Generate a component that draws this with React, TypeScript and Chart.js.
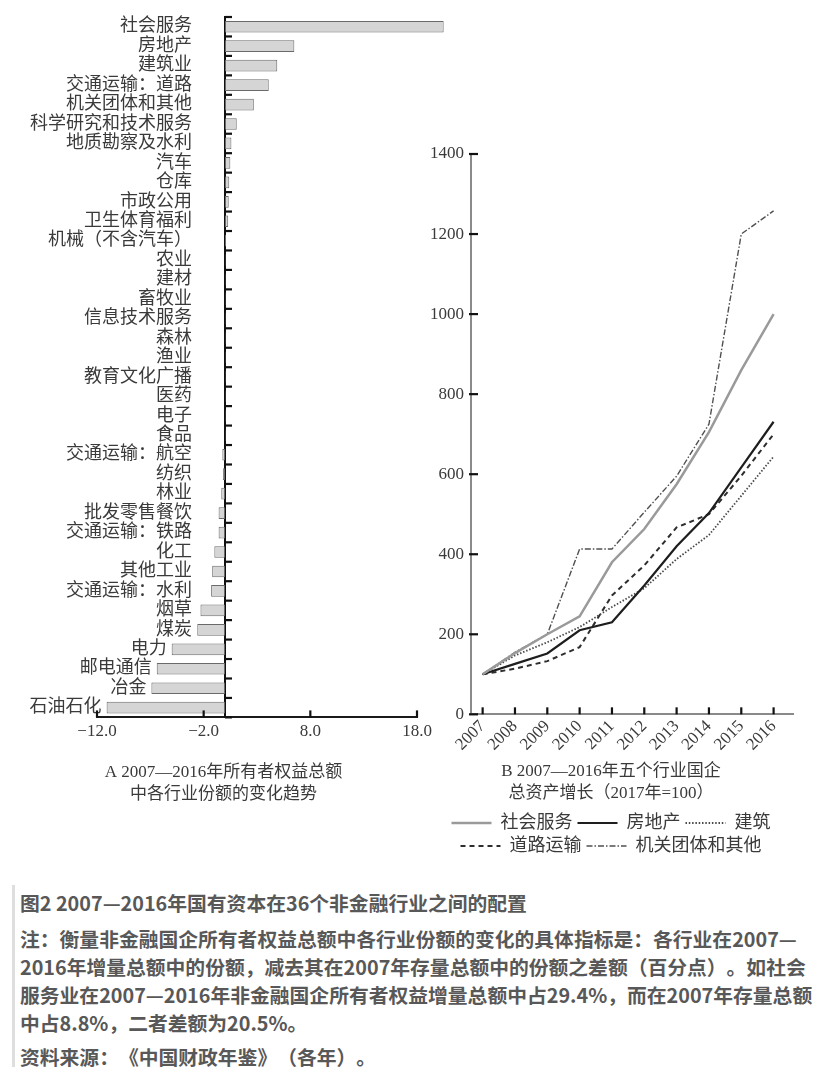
import React, { useEffect, useRef } from 'react';
import { Chart, registerables } from 'chart.js';

Chart.register(...registerables);

// ---------- Panel A data ----------
const industries = [
  '社会服务', '房地产', '建筑业', '交通运输：道路', '机关团体和其他', '科学研究和技术服务',
  '地质勘察及水利', '汽车', '仓库', '市政公用', '卫生体育福利', '机械（不含汽车）',
  '农业', '建材', '畜牧业', '信息技术服务', '森林', '渔业', '教育文化广播', '医药',
  '电子', '食品', '交通运输：航空', '纺织', '林业', '批发零售餐饮', '交通运输：铁路',
  '化工', '其他工业', '交通运输：水利', '烟草', '煤炭', '电力', '邮电通信', '冶金', '石油石化',
];
const shareChange = [
  20.5, 6.5, 4.9, 4.1, 2.7, 1.1,
  0.6, 0.5, 0.4, 0.35, 0.3, 0.1,
  0.05, 0.05, 0.05, 0.05, 0.05, 0.05, 0.05, 0.05,
  0.05, 0.05, -0.25, -0.2, -0.35, -0.6, -0.6,
  -1.0, -1.2, -1.3, -2.3, -2.6, -5.0, -6.4, -6.9, -11.1,
];
const xMinA = -12;
const xMaxA = 18;
const xStepA = 10;
const titleA = ['A 2007—2016年所有者权益总额', '中各行业份额的变化趋势'];

// ---------- Panel B data ----------
const years = ['2007', '2008', '2009', '2010', '2011', '2012', '2013', '2014', '2015', '2016'];
const socialService = [100, 153, 200, 245, 380, 463, 575, 705, 860, 1000];
const realEstate = [100, 126, 152, 210, 230, 322, 420, 503, 617, 731];
const construction = [100, 147, 180, 218, 268, 315, 388, 448, 546, 644];
const roadTransport = [100, 114, 133, 168, 297, 372, 467, 500, 596, 700];
const govOrgs = [100, 155, 200, 413, 413, 505, 595, 725, 1200, 1258];
const seriesNames = ['社会服务', '房地产', '建筑', '道路运输', '机关团体和其他'];
const yMaxB = 1400;
const yStepB = 200;
const titleB = ['B 2007—2016年五个行业国企', '总资产增长（2017年=100）'];

// ---------- caption ----------
const captionTitle = '图2 2007—2016年国有资本在36个非金融行业之间的配置';
const captionNote = [
  '注：衡量非金融国企所有者权益总额中各行业份额的变化的具体指标是：各行业在2007—',
  '2016年增量总额中的份额，减去其在2007年存量总额中的份额之差额（百分点）。如社会',
  '服务业在2007—2016年非金融国企所有者权益增量总额中占29.4%，而在2007年存量总额',
  '中占8.8%，二者差额为20.5%。',
];
const captionSource = '资料来源：《中国财政年鉴》（各年）。';

const FONT_FAMILY = '"Liberation Serif", "Noto Sans CJK SC", serif';
const TEXT_COLOR = '#3a3a3a';

const inwardTicks = {
  id: 'inwardTicks',
  afterDraw(chart: any, _args: any, opts: any) {
    const { ctx, chartArea } = chart;
    const xs = chart.scales.x;
    const ys = chart.scales.y;
    ctx.save();
    ctx.strokeStyle = '#111';
    ctx.lineWidth = 2.2;
    const len = (opts && opts.len) || 7;
    xs.ticks.forEach((_t: any, i: number) => {
      const px = xs.getPixelForTick(i);
      ctx.beginPath();
      ctx.moveTo(px, chartArea.bottom);
      ctx.lineTo(px, chartArea.bottom - len);
      ctx.stroke();
    });
    if (opts && opts.categoryY) {
      const x0 = xs.getPixelForValue(0);
      const n = chart.data.labels.length;
      for (let i = 0; i <= n; i++) {
        const py = ys.getPixelForValue(i - 0.5);
        ctx.beginPath();
        ctx.moveTo(x0, py);
        ctx.lineTo(x0 + len, py);
        ctx.stroke();
      }
    } else {
      ys.ticks.forEach((_t: any, i: number) => {
        const py = ys.getPixelForTick(i);
        ctx.beginPath();
        ctx.moveTo(chartArea.left - 2, py);
        ctx.lineTo(chartArea.left + len, py);
        ctx.stroke();
      });
    }
    ctx.restore();
  },
};

const barLabels = {
  id: 'barLabels',
  afterDatasetsDraw(chart: any) {
    const { ctx } = chart;
    const meta = chart.getDatasetMeta(0);
    const zero = chart.scales.x.getPixelForValue(0);
    ctx.save();
    ctx.font = `18px ${FONT_FAMILY}`;
    ctx.fillStyle = TEXT_COLOR;
    ctx.textAlign = 'right';
    ctx.textBaseline = 'middle';
    meta.data.forEach((bar: any, i: number) => {
      const { x, base, y } = bar.getProps(['x', 'base', 'y'], true);
      const left = Math.min(x, base);
      const tx = Math.min(zero - 33, left - 5);
      ctx.fillText(chart.data.labels[i], tx, y);
    });
    ctx.restore();
  },
};

function PanelA() {
  const ref = useRef<HTMLCanvasElement>(null);
  useEffect(() => {
    const chart = new Chart(ref.current!, {
      type: 'bar',
      data: {
        labels: industries,
        datasets: [
          {
            data: shareChange,
            backgroundColor: '#d5d5d5',
            borderColor: '#6a6a6a',
            borderWidth: 1,
            borderSkipped: false,
            barPercentage: 0.6,
            categoryPercentage: 1,
            clip: false,
          } as any,
        ],
      },
      options: {
        indexAxis: 'y',
        animation: false,
        responsive: false,
        devicePixelRatio: 1,
        layout: { padding: { left: 30, right: 33, top: 17, bottom: 0 } },
        scales: {
          x: {
            type: 'linear',
            min: xMinA,
            max: xMaxA,
            ticks: {
              stepSize: xStepA,
              padding: 4,
              color: TEXT_COLOR,
              font: { family: FONT_FAMILY, size: 17 },
              callback: (v: any) => (v < 0 ? '−' : '') + Math.abs(Number(v)).toFixed(1),
            },
            grid: { display: false, drawTicks: false },
            border: { display: true, color: '#1a1a1a', width: 2 },
          },
          y: {
            type: 'category',
            position: { x: 0 } as any,
            ticks: { display: false },
            grid: { display: false, drawTicks: false },
            border: { display: true, color: '#111', width: 2 },
          },
          // empty spacer that reserves room for the category labels on the left
          labelSpace: {
            type: 'linear',
            position: 'left',
            display: true,
            ticks: { display: false },
            grid: { display: false, drawTicks: false },
            border: { display: false },
            afterFit: (s: any) => {
              s.width = 67;
            },
          } as any,
        },
        plugins: {
          legend: { display: false },
          tooltip: { enabled: false },
          title: {
            display: true,
            position: 'bottom',
            text: titleA,
            color: TEXT_COLOR,
            font: { family: FONT_FAMILY, size: 17, weight: 'normal', lineHeight: 1.3 },
            padding: { top: 16, bottom: 0 },
          },
          inwardTicks: { categoryY: true, len: 7 },
        } as any,
      },
      plugins: [inwardTicks, barLabels],
    });
    return () => chart.destroy();
  }, []);
  return (
    <canvas
      ref={ref}
      width={450}
      height={806}
      style={{ position: 'absolute', left: 0, top: 0, width: 450, height: 806 }}
    />
  );
}

function PanelB() {
  const ref = useRef<HTMLCanvasElement>(null);
  useEffect(() => {
    const mk = (label: string, data: number[], color: string, width: number, dash: number[]) => ({
      label,
      data: data.map((v, i) => ({ x: Number(years[i]), y: v })),
      borderColor: color,
      backgroundColor: color,
      borderWidth: width,
      borderDash: dash,
      pointRadius: 0,
      tension: 0,
      fill: false,
    });
    const chart = new Chart(ref.current!, {
      type: 'line',
      data: {
        datasets: [
          mk(seriesNames[0], socialService, '#9a9a9a', 2.5, []),
          mk(seriesNames[1], realEstate, '#1e1e1e', 2.2, []),
          mk(seriesNames[2], construction, '#4a4a4a', 1.8, [1.5, 1.8]),
          mk(seriesNames[3], roadTransport, '#2e2e2e', 2, [5, 4]),
          mk(seriesNames[4], govOrgs, '#505050', 1.4, [6, 2, 1.5, 2]),
        ] as any,
      },
      options: {
        animation: false,
        responsive: false,
        devicePixelRatio: 1,
        layout: { padding: { left: 29, right: 2, top: 24, bottom: 0 } },
        scales: {
          x: {
            type: 'linear',
            min: Number(years[0]) - 0.36,
            max: Number(years[years.length - 1]) + 0.6,
            afterBuildTicks: (scale: any) => {
              scale.ticks = years.map((y) => ({ value: Number(y) }));
            },
            ticks: {
              minRotation: 45,
              maxRotation: 45,
              padding: 2,
              color: TEXT_COLOR,
              font: { family: FONT_FAMILY, size: 17 },
              callback: (v: any) => String(v),
            },
            grid: { display: false, drawTicks: false },
            border: { display: true, color: '#8a8a8a', width: 2 },
          },
          y: {
            min: 0,
            max: yMaxB,
            afterFit: (s: any) => {
              s.width = 42;
            },
            ticks: {
              stepSize: yStepB,
              padding: 7,
              color: TEXT_COLOR,
              font: { family: FONT_FAMILY, size: 17 },
              callback: (v: any) => String(v),
            },
            grid: { display: false, drawTicks: false },
            border: { display: true, color: '#8a8a8a', width: 2 },
          },
        },
        plugins: {
          tooltip: { enabled: false },
          title: {
            display: true,
            position: 'bottom',
            weight: 500,
            text: titleB,
            color: TEXT_COLOR,
            font: { family: FONT_FAMILY, size: 17, weight: 'normal', lineHeight: 1.3 },
            padding: { top: 4, bottom: 4 },
          } as any,
          legend: {
            display: true,
            position: 'bottom',
            labels: {
              usePointStyle: true,
              pointStyle: 'line',
              pointStyleWidth: 40,
              boxHeight: 10,
              padding: 5,
              color: TEXT_COLOR,
              font: { family: FONT_FAMILY, size: 18 },
              generateLabels: (chart: any) => {
                const base = (Chart.defaults.plugins.legend.labels as any).generateLabels(chart);
                return base.map((item: any) => {
                  const ds = chart.data.datasets[item.datasetIndex];
                  return {
                    ...item,
                    lineWidth: ds.borderWidth,
                    lineDash: ds.borderDash,
                    strokeStyle: ds.borderColor,
                    fillStyle: ds.borderColor,
                  };
                });
              },
            },
          },
          inwardTicks: { categoryY: false, len: 7 },
        } as any,
      },
      plugins: [inwardTicks],
    });
    return () => chart.destroy();
  }, []);
  return (
    <canvas
      ref={ref}
      width={395}
      height={735}
      style={{ position: 'absolute', left: 400, top: 130, width: 395, height: 735 }}
    />
  );
}

function Caption() {
  const line: React.CSSProperties = { height: 28, lineHeight: '28px', whiteSpace: 'nowrap' };
  return (
    <div
      style={{
        position: 'absolute',
        left: 12,
        top: 885,
        width: 820,
        paddingTop: 4,
        paddingLeft: 5,
        borderLeft: '3px solid #dedede',
        fontFamily: '"Noto Sans CJK SC", sans-serif',
        fontWeight: 700,
        fontSize: 19.8,
        color: '#585858',
        height: 182,
        boxSizing: 'border-box',
        ...({ textSpacingTrim: 'space-all' } as any),
      }}
    >
      <div style={line}>{captionTitle}</div>
      <div style={{ marginTop: 8 }}>
        {captionNote.map((t, i) => (
          <div key={i} style={line}>
            {t}
          </div>
        ))}
      </div>
      <div style={{ ...line, marginTop: 6 }}>{captionSource}</div>
    </div>
  );
}

export default function App() {
  return (
    <div style={{ position: 'absolute', left: 0, top: 0, width: 840, height: 1070, background: '#fff' }}>
      <PanelA />
      <PanelB />
      <Caption />
    </div>
  );
}
